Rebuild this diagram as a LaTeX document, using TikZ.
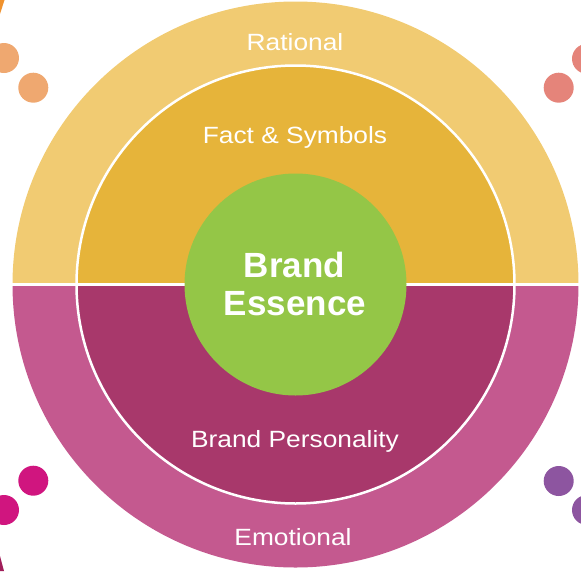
\documentclass[tikz,border=0pt]{standalone}
\usepackage{fontspec}
\setmainfont[FakeStretch=1.12]{Liberation Sans}
\newfontfamily\essfont{Liberation Sans}
\definecolor{ratOuter}{HTML}{F1CB72}
\definecolor{ratInner}{HTML}{E6B43A}
\definecolor{emoOuter}{HTML}{C4598F}
\definecolor{emoInner}{HTML}{A8386B}
\definecolor{essGreen}{HTML}{94C647}
\definecolor{dotOrange}{HTML}{EFA870}
\definecolor{dotSalmon}{HTML}{E5847A}
\definecolor{dotMagenta}{HTML}{D0157F}
\definecolor{dotPurple}{HTML}{8D55A0}
\definecolor{edgeOrange}{HTML}{F0922E}
\definecolor{edgeDark}{HTML}{A01E5A}
\begin{document}
\begin{tikzpicture}[x=1pt,y=-1pt,
  lbl/.style={text=white, font=\fontsize{23.5}{28}\selectfont, anchor=base, inner sep=0pt},
  big/.style={text=white, font=\essfont\bfseries\fontsize{35}{38}\selectfont, anchor=base, inner sep=0pt},
  dot/.style={radius=15}]
\useasboundingbox (0,0) rectangle (581,571);
\coordinate (c) at (295.5,284.5);
% outer ring halves
\fill[ratOuter] (c) ++(-283,0) arc[start angle=180,end angle=360,radius=283] -- cycle;
\fill[emoOuter] (c) ++(-283,0) arc[start angle=180,end angle=0,radius=283] -- cycle;
% inner halves
\fill[ratInner] (c) ++(-219,0) arc[start angle=180,end angle=360,radius=219] -- cycle;
\fill[emoInner] (c) ++(-219,0) arc[start angle=180,end angle=0,radius=219] -- cycle;
\draw[white, line width=2.5] (c) circle[radius=219];
\draw[white, line width=3] (c) ++(-284,0) -- ++(568,0);
% centre
\node[circle, fill=essGreen, minimum size=222pt, inner sep=0pt] (ess) at (c) {};
% dots
\fill[dotOrange] (4,58) circle[dot];
\fill[dotOrange] (33.3,87.7) circle[dot];
\fill[dotSalmon] (558.7,87.7) circle[dot];
\fill[dotSalmon] (587,58.8) circle[dot];
\fill[dotMagenta] (33.3,480.7) circle[dot];
\fill[dotMagenta] (4,510) circle[dot];
\fill[dotPurple] (558.7,481) circle[dot];
\fill[dotPurple] (587,510) circle[dot];
\fill[edgeOrange] (0,0) -- (4.5,0) -- (0,14) -- cycle;
\fill[edgeDark] (0,556) -- (4,571) -- (0,571) -- cycle;
% texts
\node[lbl] (rational) at (295,50) {Rational};
\node[lbl] (facts) at (295,143) {Fact \& Symbols};
\node[big] (brand) at (294.5,277) {Brand};
\node[big] (essence) at (295,315) {Essence};
\node[lbl] (personality) at (295,447) {Brand Personality};
\node[lbl] (emotional) at (293,545) {Emotional};
\end{tikzpicture}
\end{document}
